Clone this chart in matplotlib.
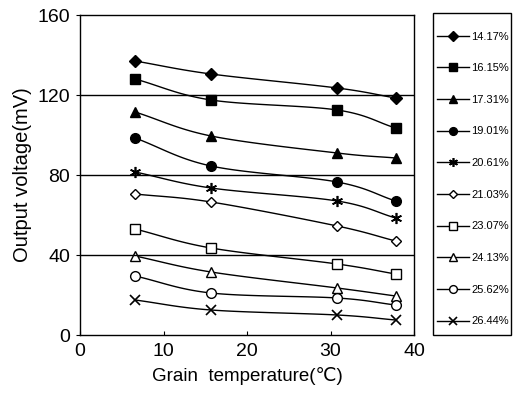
import numpy as np
import matplotlib
matplotlib.use("Agg")
import matplotlib.pyplot as plt
from matplotlib.lines import Line2D
from matplotlib.patches import Rectangle

plt.rcParams['font.family'] = ['Liberation Sans', 'DejaVu Sans']

temps = [6.6, 15.7, 30.8, 37.8]
labels = ["14.17%", "16.15%", "17.31%", "19.01%", "20.61%",
          "21.03%", "23.07%", "24.13%", "25.62%", "26.44%"]
v_1417 = [137, 130.5, 123.5, 118.5]
v_1615 = [128, 117.5, 112.5, 103.5]
v_1731 = [111.5, 99.5, 91, 88.5]
v_1901 = [98.5, 84.5, 76.5, 67]
v_2061 = [81.5, 73.5, 67, 58.5]
v_2103 = [70.5, 66.5, 54.5, 47]
v_2307 = [53, 43.5, 35.5, 30.5]
v_2413 = [39.5, 31.5, 23.5, 19.5]
v_2562 = [29.5, 21, 18.5, 15]
v_2644 = [17.5, 12.5, 10, 7.5]
series = [v_1417, v_1615, v_1731, v_1901, v_2061,
          v_2103, v_2307, v_2413, v_2562, v_2644]

styles = [
    dict(marker='D', mfc='black', ms=6),
    dict(marker='s', mfc='black', ms=7),
    dict(marker='^', mfc='black', ms=7),
    dict(marker='o', mfc='black', ms=7),
    dict(marker=(6, 2, 0), mfc='black', ms=8, mew=1.2),
    dict(marker='D', mfc='white', ms=5.5),
    dict(marker='s', mfc='white', ms=7),
    dict(marker='^', mfc='white', ms=7),
    dict(marker='o', mfc='white', ms=7),
    dict(marker='x', mfc='black', ms=7, mew=1.2),
]


def catmull_rom(x, y, n=30):
    x = np.asarray(x, float)
    y = np.asarray(y, float)
    px = np.concatenate([[2 * x[0] - x[1]], x, [2 * x[-1] - x[-2]]])
    py = np.concatenate([[2 * y[0] - y[1]], y, [2 * y[-1] - y[-2]]])
    xs, ys = [], []
    for i in range(1, len(px) - 2):
        t = np.linspace(0, 1, n)
        for arr, out in ((px, xs), (py, ys)):
            p0, p1, p2, p3 = arr[i - 1], arr[i], arr[i + 1], arr[i + 2]
            out.append(0.5 * ((2 * p1) + (-p0 + p2) * t
                              + (2 * p0 - 5 * p1 + 4 * p2 - p3) * t ** 2
                              + (-p0 + 3 * p1 - 3 * p2 + p3) * t ** 3))
    return np.concatenate(xs), np.concatenate(ys)


W, H = 513, 393
fig = plt.figure(figsize=(W / 100, H / 100), dpi=100)
ax = fig.add_axes([80 / W, (H - 335) / H, (414 - 80) / W, (335 - 15) / H])

handles = []
for vals, st in zip(series, styles):
    sx, sy = catmull_rom(temps, vals)
    ax.plot(sx, sy, color='black', lw=1.0)
    ax.plot(temps, vals, ls='none', color='black', mec='black', **st)
    handles.append(Line2D([], [], color='black', lw=1.0, mec='black', **st))

for g in (40, 80, 120):
    ax.axhline(g, color='black', lw=1.0)

ax.set_xlim(0, 40)
ax.set_ylim(0, 160)
ax.set_xticks([0, 10, 20, 30, 40])
ax.set_yticks([0, 40, 80, 120, 160])
ax.tick_params(axis='x', direction='in', length=3, labelsize=14, pad=6)
ax.tick_params(axis='y', direction='out', length=3, labelsize=14, pad=4)
for s in ax.spines.values():
    s.set_color('black')
    s.set_linewidth(1.0)
ax.set_xlabel("Grain  temperature(℃)", fontsize=13.5, labelpad=5)
ax.set_ylabel("Output voltage(mV)", fontsize=14.5, labelpad=4)

leg = fig.legend(handles, labels, loc='center',
                 bbox_to_anchor=(433 / W, 1 - 179 / H, (512 - 433) / W, 0),
                 mode='expand', borderaxespad=0, frameon=False,
                 fontsize=8, labelspacing=1.95,
                 handlelength=2.8, handletextpad=0.25, borderpad=0.4,
                 markerscale=0.8)
fig.patches.append(Rectangle((433 / W, 1 - 335 / H), (511 - 433) / W, (335 - 13) / H,
                             transform=fig.transFigure, fill=False,
                             edgecolor='black', lw=1.0))

fig.savefig("out.png", dpi=100)
